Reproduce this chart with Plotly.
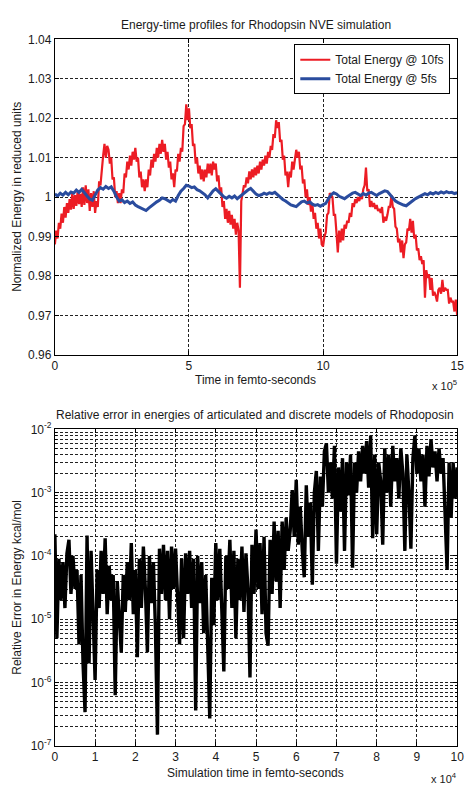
import numpy as np
import plotly.graph_objects as go

# ---------------- data ----------------
# top panel: time in units of 1e5 fs
t_10fs = np.round(np.arange(0, 15.0001, 0.05), 2)
energy_10fs = [
    0.9880, 0.9915, 0.9895, 0.9935, 0.9920, 0.9958, 0.9935, 0.9975, 0.9948, 0.9985, 0.9960, 0.9995, 0.9968, 1.0010, 0.9970, 1.0005, 0.9978, 1.0015, 0.9982, 1.0008,
    0.9975, 1.0025, 0.9980, 1.0030, 0.9985, 1.0020, 0.9965, 1.0010, 0.9975, 1.0015, 0.9960, 0.9990, 0.9975, 1.0040, 1.0030, 1.0080, 1.0105, 1.0135, 1.0100, 1.0130,
    1.0120, 1.0085, 1.0100, 1.0045, 1.0050, 1.0000, 1.0015, 0.9985, 1.0010, 0.9985, 1.0020, 1.0010, 1.0060, 1.0050, 1.0090, 1.0070, 1.0105, 1.0080, 1.0115, 1.0095,
    1.0125, 1.0090, 1.0100, 1.0050, 1.0065, 1.0025, 1.0045, 1.0015, 1.0045, 1.0025, 1.0070, 1.0055, 1.0095, 1.0075, 1.0110, 1.0090, 1.0125, 1.0100, 1.0135, 1.0110,
    1.0145, 1.0115, 1.0135, 1.0095, 1.0115, 1.0075, 1.0090, 1.0045, 1.0060, 1.0025, 1.0070, 1.0065, 1.0110, 1.0090, 1.0125, 1.0115, 1.0180, 1.0185, 1.0235, 1.0195,
    1.0225, 1.0175, 1.0185, 1.0130, 1.0135, 1.0085, 1.0100, 1.0060, 1.0080, 1.0045, 1.0070, 1.0040, 1.0070, 1.0050, 1.0085, 1.0060, 1.0085, 1.0055, 1.0090, 1.0070,
    1.0085, 1.0040, 1.0055, 1.0010, 1.0025, 0.9975, 0.9990, 0.9945, 0.9970, 0.9935, 0.9965, 0.9930, 0.9955, 0.9920, 0.9945, 0.9905, 0.9935, 0.9915, 0.9770, 0.9990,
    1.0015, 1.0030, 1.0025, 1.0050, 1.0035, 1.0065, 1.0045, 1.0070, 1.0050, 1.0075, 1.0055, 1.0080, 1.0060, 1.0090, 1.0070, 1.0095, 1.0080, 1.0105, 1.0085, 1.0115,
    1.0100, 1.0130, 1.0120, 1.0160, 1.0150, 1.0195, 1.0175, 1.0190, 1.0140, 1.0145, 1.0095, 1.0105, 1.0055, 1.0065, 1.0025, 1.0065, 1.0050, 1.0090, 1.0070, 1.0100,
    1.0120, 1.0100, 1.0115, 1.0070, 1.0080, 1.0035, 1.0045, 1.0000, 1.0020, 0.9980, 1.0000, 0.9963, 0.9985, 0.9945, 0.9960, 0.9920, 0.9935, 0.9895, 0.9920, 0.9880,
    0.9875, 0.9900, 0.9910, 0.9955, 0.9960, 1.0010, 1.0005, 1.0000, 0.9955, 0.9955, 0.9910, 0.9860, 0.9915, 0.9885, 0.9920, 0.9890, 0.9930, 0.9920, 0.9940, 0.9935,
    0.9960, 0.9950, 0.9985, 0.9975, 0.9995, 0.9985, 1.0000, 0.9990, 1.0005, 0.9995, 1.0020, 1.0030, 1.0075, 1.0015, 1.0020, 0.9975, 0.9990, 0.9975, 0.9985, 0.9970,
    0.9980, 0.9965, 0.9970, 0.9960, 0.9975, 0.9935, 0.9950, 0.9940, 0.9955, 0.9975, 0.9975, 1.0005, 0.9975, 0.9970, 0.9925, 0.9920, 0.9885, 0.9895, 0.9860, 0.9890,
    0.9845, 0.9880, 0.9885, 0.9920, 0.9915, 0.9945, 0.9910, 0.9940, 0.9895, 0.9905, 0.9865, 0.9870, 0.9840, 0.9850, 0.9830, 0.9840, 0.9745, 0.9815, 0.9795, 0.9805,
    0.9765, 0.9795, 0.9750, 0.9760, 0.9750, 0.9735, 0.9765, 0.9770, 0.9755, 0.9790, 0.9760, 0.9770, 0.9765, 0.9765, 0.9730, 0.9745, 0.9735, 0.9735, 0.9710, 0.9740,
    0.9700,
]

t_5fs = np.round(np.arange(0, 15.0001, 0.1), 1)
energy_5fs = [
    1.0008, 1.0003, 1.0010, 1.0005, 1.0012, 1.0006, 1.0013, 1.0010, 1.0018, 1.0012,
    1.0020, 1.0010, 1.0003, 0.9995, 0.9992, 1.0005, 1.0018, 1.0024, 1.0020, 1.0027,
    1.0022, 1.0026, 1.0015, 1.0000, 0.9990, 0.9993, 0.9986, 0.9990, 0.9984, 0.9988,
    0.9980, 0.9976, 0.9972, 0.9970, 0.9966, 0.9972, 0.9978, 0.9983, 0.9988, 0.9992,
    0.9998, 0.9996, 0.9992, 0.9988, 0.9994, 0.9990, 1.0004, 1.0015, 1.0022, 1.0030,
    1.0028, 1.0024, 1.0026, 1.0019, 1.0016, 1.0012, 1.0006, 0.9998, 1.0008, 1.0016,
    1.0021, 1.0014, 1.0006, 1.0001, 0.9997, 1.0002, 0.9998, 1.0003, 0.9996, 1.0002,
    1.0006, 1.0012, 1.0018, 1.0022, 1.0015, 1.0008, 1.0004, 1.0006, 1.0010, 1.0007,
    1.0011, 1.0009, 1.0012, 1.0006, 0.9998, 0.9994, 0.9990, 0.9985, 0.9980, 0.9978,
    0.9976, 0.9982, 0.9988, 0.9990, 0.9985, 0.9988, 0.9982, 0.9979, 0.9981, 0.9977,
    0.9980, 0.9984, 0.9996, 1.0006, 1.0011, 1.0008, 1.0002, 0.9999, 0.9996, 1.0001,
    1.0006, 1.0010, 1.0012, 1.0007, 1.0004, 1.0009, 1.0005, 1.0010, 1.0012, 1.0008,
    1.0004, 1.0009, 1.0013, 1.0016, 1.0014, 1.0006, 0.9996, 0.9990, 0.9986, 0.9982,
    0.9980, 0.9978, 0.9984, 0.9990, 0.9994, 0.9998, 1.0001, 1.0005, 1.0009, 1.0006,
    1.0011, 1.0008, 1.0012, 1.0009, 1.0013, 1.0010, 1.0014, 1.0011, 1.0012, 1.0009,
    1.0011,
]

# bottom panel: time in units of 1e4 fs
t_err = np.round(np.arange(0, 10.0001, 0.05), 2)
rel_err = [
    2.2e-4, 5e-6, 9e-5, 2.0e-5, 8e-5, 1.5e-5, 1.1e-4, 1.8e-4, 2.5e-5, 1.0e-4,
    3e-5, 6e-5, 4e-6, 5e-5, 2e-6, 3.4e-7, 2.1e-4, 2e-6, 1.2e-4, 1.5e-5,
    1.1e-6, 6e-5, 1.5e-5, 1.2e-4, 2.5e-5, 1.9e-4, 1.2e-5, 7e-5, 2e-5, 5e-5,
    6.3e-7, 4e-5, 9e-6, 3e-6, 5e-5, 1.3e-5, 8e-5, 2e-5, 1.6e-4, 1.2e-5,
    6e-5, 2.5e-6, 9e-5, 1.5e-5, 1.4e-4, 3e-5, 3e-6, 1.0e-4, 1.8e-5, 8e-5,
    7e-6, 1.5e-7, 1.3e-4, 2.5e-5, 1.5e-4, 2e-5, 1.2e-4, 1.0e-5, 1.4e-4, 3e-5,
    1.3e-4, 2e-5, 4e-6, 9e-5, 5e-6, 1.1e-4, 2.5e-5, 1.2e-4, 1.5e-5, 9e-5,
    3.6e-7, 1.0e-4, 1.8e-5, 8e-5, 6e-6, 5e-5, 4e-6, 2.7e-7, 4.5e-5, 8e-6,
    1.6e-4, 2e-5, 1.3e-4, 1.2e-5, 1.5e-6, 1.0e-4, 3e-5, 1.8e-4, 1.5e-5, 1.2e-4,
    5e-6, 9e-5, 2e-5, 1.4e-4, 1.3e-5, 1.1e-4, 3e-5, 1.2e-6, 1.5e-4, 2.5e-5,
    2.6e-4, 3e-5, 1.6e-4, 1.2e-5, 2.0e-4, 6e-6, 3.8e-6, 1.8e-4, 2.5e-5, 3.5e-4,
    4e-5, 2.5e-4, 1.5e-5, 3.5e-4, 6e-5, 4e-4, 1.2e-4, 2.5e-4, 1.1e-3, 2e-4,
    1.6e-3, 1.5e-4, 6e-4, 1.2e-4, 4.6e-5, 1.3e-3, 2e-4, 7e-4, 3.5e-5, 1.0e-3,
    2.2e-3, 1.2e-4, 1.8e-3, 6e-4, 4.5e-3, 6e-3, 1.0e-3, 3e-3, 8e-4, 5.5e-3,
    7.5e-5, 2.5e-3, 5e-4, 3.5e-3, 1.2e-4, 3e-3, 9e-4, 4e-3, 6.5e-5, 3e-3,
    1.0e-3, 4.5e-3, 1.5e-3, 5.5e-3, 2e-3, 6.5e-3, 1.2e-3, 8e-3, 1.9e-4, 4e-3,
    2.2e-4, 3e-3, 1.5e-3, 1.5e-4, 5e-3, 1.0e-3, 4e-3, 6e-4, 5.5e-3, 1.5e-3,
    3.5e-3, 8e-4, 5e-3, 2e-3, 1.2e-4, 4e-3, 1.0e-3, 1.3e-4, 3.5e-3, 8e-3,
    2e-3, 5e-3, 1.5e-3, 4e-3, 6e-4, 5.5e-3, 1.8e-3, 7e-3, 2.5e-3, 4.5e-3,
    1.5e-3, 5e-3, 2e-3, 3.5e-3, 5e-4, 6e-5, 3e-3, 4e-4, 3e-3, 8e-4,
    2.5e-3,
]

top_yticks = [0.96, 0.97, 0.98, 0.99, 1.00, 1.01, 1.02, 1.03, 1.04]
top_yticklabels = ["0.96", "0.97", "0.98", "0.99", "1", "1.01", "1.02", "1.03", "1.04"]
top_xticks = [0, 5, 10, 15]
bot_xticks = list(range(0, 11))
bot_yticks = [1e-7, 1e-6, 1e-5, 1e-4, 1e-3, 1e-2]
bot_yticklabels = ["10<sup>-7</sup>", "10<sup>-6</sup>", "10<sup>-5</sup>",
                   "10<sup>-4</sup>", "10<sup>-3</sup>", "10<sup>-2</sup>"]

# ---------------- figure ----------------
W, H = 471, 791
FONT = "Liberation Sans, Arial, sans-serif"
RED = "#ec1c24"
BLUE = "#2a4c9e"
TXT = "#1a1a1a"


def px_x(p):
    return p / W


def px_y(p):
    return 1 - p / H


fig = go.Figure()
fig.add_trace(go.Scatter(x=t_10fs, y=energy_10fs, mode="lines", name="Total Energy @ 10fs",
                         line=dict(color=RED, width=2.2), xaxis="x", yaxis="y"))
fig.add_trace(go.Scatter(x=t_5fs, y=energy_5fs, mode="lines", name="Total Energy @ 5fs",
                         line=dict(color=BLUE, width=3), xaxis="x", yaxis="y"))
fig.add_trace(go.Scatter(x=t_err, y=rel_err, mode="lines", showlegend=False,
                         line=dict(color="black", width=3.4), xaxis="x2", yaxis="y2"))

axis_common = dict(showline=True, linecolor="black", linewidth=1, mirror="ticks",
                   ticks="inside", ticklen=4, tickcolor="black",
                   showgrid=True, gridcolor="#222", gridwidth=1, griddash="3px,2px",
                   zeroline=False, tickfont=dict(family=FONT, size=12, color=TXT))

x_dom = [px_x(53), px_x(464)]
fig.update_layout(
    width=W, height=H, margin=dict(l=0, r=0, t=0, b=0),
    paper_bgcolor="white", plot_bgcolor="white",
    font=dict(family=FONT, size=12, color=TXT),
    xaxis=dict(domain=x_dom, anchor="y", range=[0, 15], tickvals=top_xticks, **axis_common),
    yaxis=dict(domain=[px_y(353), px_y(31)], anchor="x", range=[0.96, 1.04],
               tickvals=top_yticks, ticktext=top_yticklabels, **axis_common),
    xaxis2=dict(domain=x_dom, anchor="y2", range=[0, 10], tickvals=bot_xticks, **axis_common),
    yaxis2=dict(domain=[px_y(752), px_y(429)], anchor="x2", type="log", range=[-7, -2],
                tickvals=bot_yticks, ticktext=bot_yticklabels,
                minor=dict(tickvals=[m * 10.0 ** e for e in range(-7, -2) for m in range(2, 10)],
                           showgrid=True, gridcolor="#222", gridwidth=1, griddash="3px,2px",
                           ticks="inside", ticklen=2, tickcolor="black"),
                **axis_common),
    legend=dict(x=px_x(457), y=px_y(36), xanchor="right", yanchor="top",
                bgcolor="white", bordercolor="black", borderwidth=1,
                font=dict(family=FONT, size=12, color=TXT),
                tracegroupgap=0, itemwidth=30),
    showlegend=True,
)


def label(text, x, y, angle=0, size=12, xanchor="center"):
    return dict(text=text, x=px_x(x), y=px_y(y), xref="paper", yref="paper", showarrow=False,
                xanchor=xanchor, yanchor="middle", textangle=angle,
                font=dict(family=FONT, size=size, color=TXT))


annotations = [
    label("Energy-time profiles for Rhodopsin NVE simulation", 258, 16),
    label("Time in femto-seconds", 258, 379),
    label("Relative error in energies of articulated and discrete models of Rhodoposin", 257, 414),
    label("Simulation time in femto-seconds", 258, 780),
    label("Normalized Energy in reduced units", 14, 192, angle=-90),
    label("Relative Error in Energy kcal/mol", 14, 590, angle=-90),
    label("x 10<sup>5</sup>", 466, 384, size=11, xanchor="right"),
    label("x 10<sup>4</sup>", 466, 785, size=11, xanchor="right"),
]
fig.update_layout(annotations=annotations)

fig.write_html("out.html")
